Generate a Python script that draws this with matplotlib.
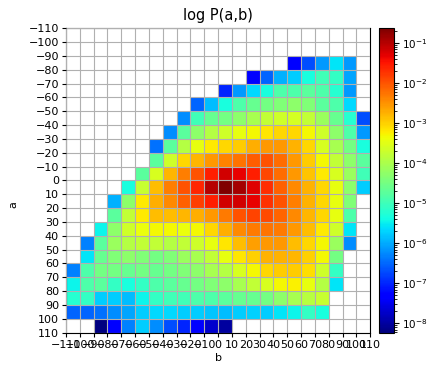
import numpy as np
import matplotlib
matplotlib.use("Agg")
import matplotlib.pyplot as plt
from matplotlib.colors import LogNorm

# bin edges (a rows from -110 at top to 110 at bottom; b columns left to right)
a_edges = list(range(-110, 111, 10))
b_edges = list(range(-110, 111, 10))
ticks = list(range(-110, 111, 10))

N = None
# log10 P(a,b); rows a0 = -110 ... 100, columns b0 = -110 ... 100
log10_P = [
    [N]*22,
    [N]*22,
    [N]*16 + [-7.33, -6.71, -6.14, -5.57, -6.14, N],
    [N]*13 + [-7.33, -6.52, -5.95, -5.76, -5.33, -4.98, -5.10, -6.05, N],
    [N]*11 + [-6.99, -6.14, -5.67, -5.33, -4.86, -4.86, -4.75, -4.86, -5.22, -6.14, N],
    [N]*9 + [-6.52, -5.86, -5.33, -4.86, -4.63, -4.51, -4.39, -4.27, -4.39, -4.75, -4.86, -5.67, N],
    [N]*8 + [-6.24, -4.98, -4.63, -4.51, -4.27, -4.04, -3.80, -3.68, -3.60, -3.80, -4.16, -4.63, -5.22, -6.71],
    [N]*7 + [-6.24, -4.75, -4.27, -3.92, -3.68, -3.45, -3.33, -3.16, -3.06, -3.06, -3.33, -3.68, -4.27, -4.86, -6.14],
    [N]*6 + [-6.43, -4.75, -3.92, -3.45, -3.20, -3.06, -2.96, -2.71, -2.55, -2.55, -2.75, -3.06, -3.57, -4.04, -4.51, -5.33],
    [N]*6 + [-4.75, -3.68, -3.06, -2.79, -2.55, -2.38, -2.24, -2.07, -1.99, -2.18, -2.55, -2.96, -3.33, -3.80, -4.27, -4.75],
    [N]*5 + [-4.75, -3.57, -2.79, -2.34, -1.99, -1.56, -1.17, -1.33, -1.56, -1.89, -2.18, -2.55, -2.91, -3.20, -3.57, -4.16, -4.98],
    [N]*4 + [-5.33, -3.73, -2.85, -2.34, -1.99, -1.62, -1.00, -0.63, -0.88, -1.27, -1.68, -2.09, -2.44, -2.75, -3.06, -3.45, -4.27, -5.76],
    [N]*3 + [-5.95, -4.27, -3.20, -2.71, -2.44, -2.09, -1.83, -1.56, -1.17, -1.17, -1.33, -1.72, -1.99, -2.34, -2.75, -3.06, -3.45, -4.39, N],
    [N]*3 + [-4.75, -3.80, -3.20, -2.85, -2.85, -2.79, -2.71, -2.55, -2.30, -1.99, -1.87, -1.93, -2.13, -2.44, -2.79, -3.06, -3.45, -4.86, N],
    [N]*2 + [-5.45, -4.27, -3.68, -3.40, -3.33, -3.33, -3.40, -3.33, -3.06, -2.71, -2.44, -2.30, -2.24, -2.30, -2.55, -2.85, -3.20, -3.68, -5.57, N],
    [N] + [-6.33, -4.75, -4.16, -3.92, -3.80, -3.80, -3.92, -3.80, -3.68, -3.45, -3.16, -2.85, -2.59, -2.55, -2.55, -2.85, -3.06, -3.33, -4.16, -6.24, N],
    [N] + [-5.57, -4.63, -4.39, -4.27, -4.39, -4.51, -4.39, -4.16, -4.04, -3.80, -3.45, -3.16, -3.00, -2.75, -2.75, -2.79, -3.00, -3.33, -4.51, N, N],
    [-6.33, -4.86, -4.51, -4.51, -4.63, -4.51, -4.63, -4.51, -4.39, -4.27, -4.04, -3.92, -3.57, -3.33, -3.06, -2.96, -2.96, -3.10, -3.68, -5.10, N, N],
    [-5.45, -4.86, -4.75, -5.10, -5.33, -5.10, -4.86, -4.75, -4.63, -4.51, -4.39, -4.27, -4.04, -3.80, -3.57, -3.33, -3.25, -3.45, -3.92, -5.57, N, N],
    [-5.22, -5.10, -5.76, -5.76, -5.86, -5.45, -5.10, -4.98, -4.98, -4.86, -4.86, -4.75, -4.63, -4.63, -4.51, -4.27, -4.04, -3.88, -3.73, N, N, N],
    [-6.52, -6.52, -6.43, -6.24, -6.05, -5.76, -5.67, -5.67, -5.76, -5.76, -5.80, -5.86, -5.76, -5.72, -5.76, -5.57, -5.45, -5.10, -5.33, N, N, N],
    [N, N, -8.23, -7.33, -6.33, -5.76, -6.24, -6.71, -6.99, -7.33, -7.70, -8.00] + [N]*10,
]

L = np.array([[np.nan if v is None else v for v in row] for row in log10_P], dtype=float)
P = np.ma.masked_invalid(10.0 ** L)

fig = plt.figure(figsize=(4.30, 3.66), dpi=100)
ax = fig.add_axes([66/430, 1 - 332.6/366, 304.3/430, 304.3/366])
cax = fig.add_axes([378.5/430, 1 - 332.6/366, 15.5/430, 304.3/366])

mesh = ax.pcolormesh(b_edges, a_edges, P, cmap="jet",
                     norm=LogNorm(vmin=10**-8.23, vmax=10**-0.63))
ax.set_xlim(-110, 110)
ax.set_ylim(110, -110)
ax.set_xticks(ticks)
ax.set_yticks(ticks)
ax.tick_params(labelsize=8, length=3, pad=2)
ax.grid(True, color="#b0b0b0", linewidth=0.8)
ax.set_axisbelow(False)
ax.set_title("log P(a,b)", fontsize=10.5, pad=6)
ax.set_xlabel("b", fontsize=8)
ax.set_ylabel("a", fontsize=8)
ax.xaxis.set_label_coords(0.5, -(353 - 332.6) / 304.3)
ax.yaxis.set_label_coords((18 - 66) / 304.3, (332.6 - 205) / 304.3)

cb = fig.colorbar(mesh, cax=cax)
cb.ax.tick_params(labelsize=7.5, pad=2)

fig.savefig("out.png", dpi=100)
